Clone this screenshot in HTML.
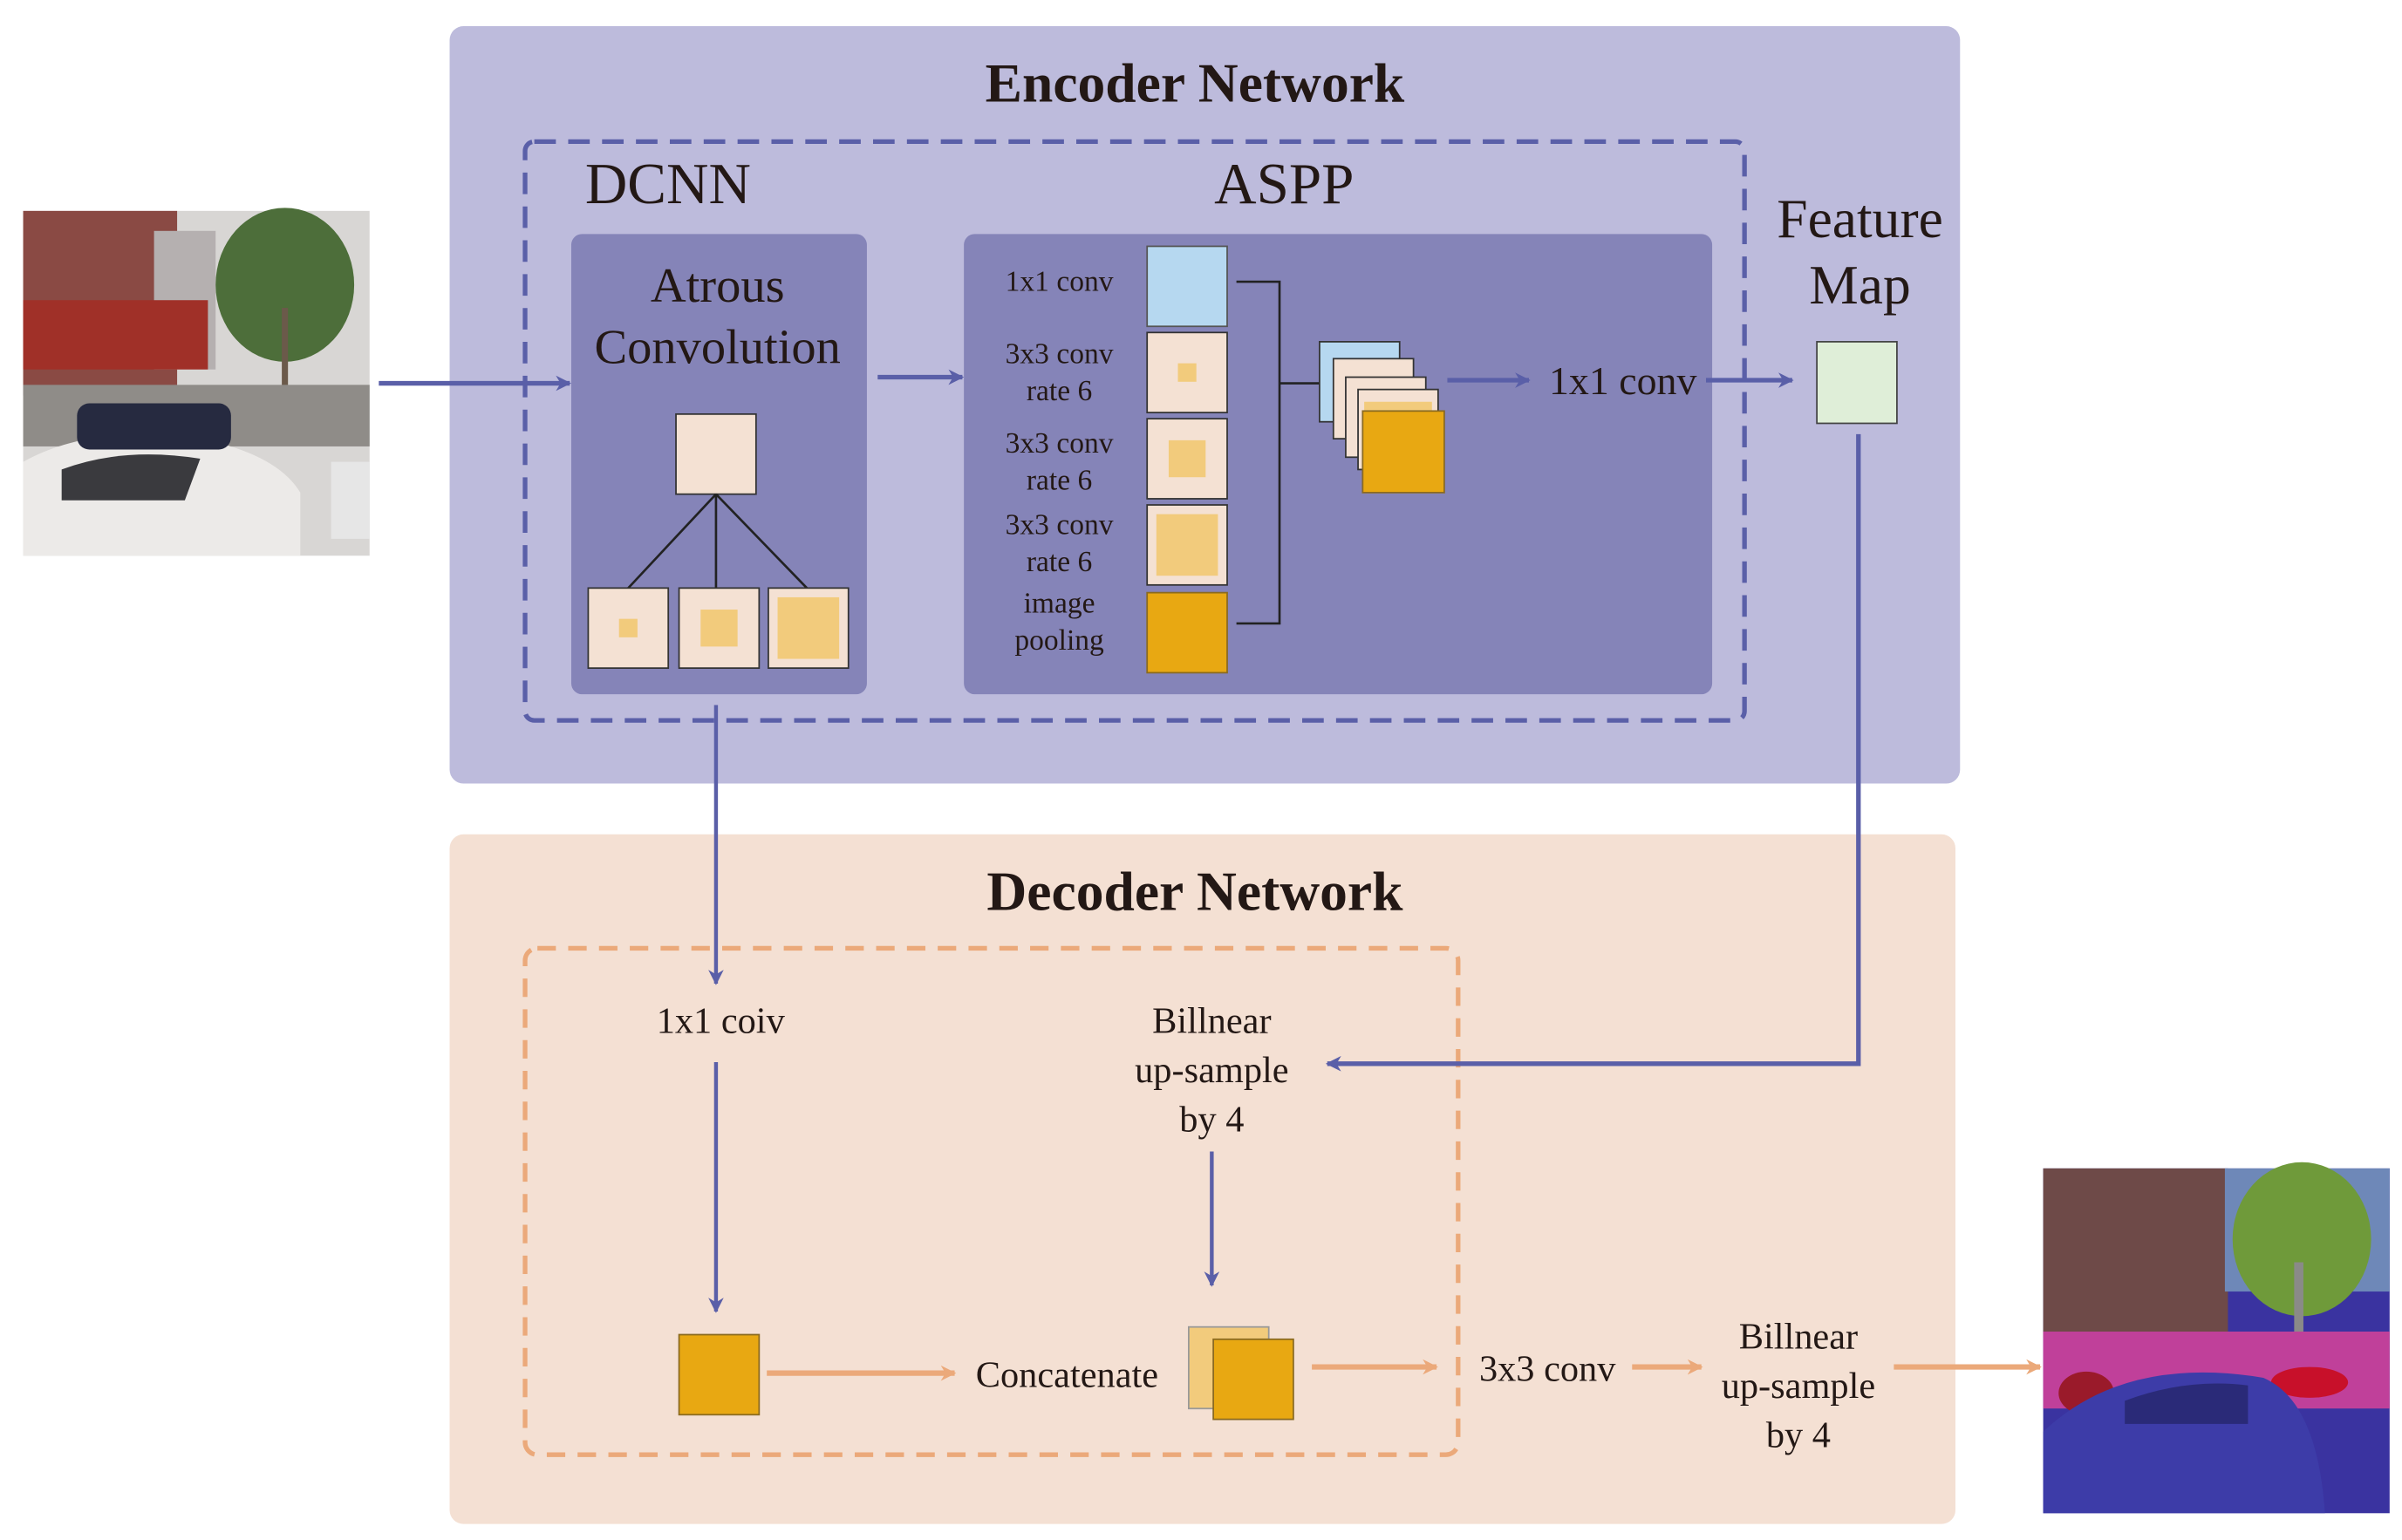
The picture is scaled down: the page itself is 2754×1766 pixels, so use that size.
<!DOCTYPE html>
<html><head><meta charset="utf-8"><style>
html,body{margin:0;padding:0;background:#fff;}
svg{display:block;}
text{font-family:"Liberation Serif",serif;fill:#231815;}
</style></head><body>
<svg width="2754" height="1766" viewBox="0 0 1560 1000.4" xmlns="http://www.w3.org/2000/svg">
<defs>
<marker id="ab" markerWidth="10" markerHeight="10" refX="9" refY="5" orient="auto" markerUnits="userSpaceOnUse"><path d="M0,0 L10,5 L0,10 L3,5 z" fill="#5a5fa8"/></marker>
<marker id="ao" markerWidth="10" markerHeight="10" refX="9" refY="5" orient="auto" markerUnits="userSpaceOnUse"><path d="M0,0 L10,5 L0,10 L3,5 z" fill="#eba97a"/></marker>
</defs>
<rect width="1560" height="1001" fill="#fff"/>
<!-- Encoder -->
<rect x="292" y="17" width="981" height="492" rx="9" fill="#bdbbdc"/>
<text x="776" y="66" font-size="36" font-weight="bold" text-anchor="middle">Encoder Network</text>
<rect x="341" y="92" width="792" height="376" rx="6" fill="none" stroke="#5a5fa8" stroke-width="3" stroke-dasharray="14,8"/>
<text x="380" y="132" font-size="38">DCNN</text>
<text x="834" y="132" font-size="38" text-anchor="middle">ASPP</text>
<rect x="371" y="152" width="192" height="299" rx="7" fill="#8584b8"/>
<rect x="626" y="152" width="486" height="299" rx="7" fill="#8584b8"/>
<text x="466" y="196" font-size="32" text-anchor="middle">Atrous</text>
<text x="466" y="236" font-size="32" text-anchor="middle">Convolution</text>
<rect x="439" y="269" width="52" height="52" fill="#f4e1d3" stroke="#333" stroke-width="1"/>
<line x1="465" y1="321" x2="408" y2="382" stroke="#222" stroke-width="1.5"/>
<line x1="465" y1="321" x2="465" y2="382" stroke="#222" stroke-width="1.5"/>
<line x1="465" y1="321" x2="524" y2="382" stroke="#222" stroke-width="1.5"/>
<rect x="382" y="382" width="52" height="52" fill="#f4e1d3" stroke="#333"/>
<rect x="402" y="402" width="12" height="12" fill="#f2cb7c"/>
<rect x="441" y="382" width="52" height="52" fill="#f4e1d3" stroke="#333"/>
<rect x="455" y="396" width="24" height="24" fill="#f2cb7c"/>
<rect x="499" y="382" width="52" height="52" fill="#f4e1d3" stroke="#333"/>
<rect x="505" y="388" width="40" height="40" fill="#f2cb7c"/>
<!-- ASPP labels -->
<g font-size="19" text-anchor="middle">
<text x="688" y="189">1x1 conv</text>
<text x="688" y="236">3x3 conv</text><text x="688" y="260">rate 6</text>
<text x="688" y="294">3x3 conv</text><text x="688" y="318">rate 6</text>
<text x="688" y="347">3x3 conv</text><text x="688" y="371">rate 6</text>
<text x="688" y="398">image</text><text x="688" y="422">pooling</text>
</g>
<rect x="745" y="160" width="52" height="52" fill="#b6d8f0" stroke="#555"/>
<rect x="745" y="216" width="52" height="52" fill="#f4e1d3" stroke="#333"/>
<rect x="765" y="236" width="12" height="12" fill="#f2cb7c"/>
<rect x="745" y="272" width="52" height="52" fill="#f4e1d3" stroke="#333"/>
<rect x="759" y="286" width="24" height="24" fill="#f2cb7c"/>
<rect x="745" y="328" width="52" height="52" fill="#f4e1d3" stroke="#333"/>
<rect x="751" y="334" width="40" height="40" fill="#f2cb7c"/>
<rect x="745" y="385" width="52" height="52" fill="#e8a812" stroke="#8a6a20"/>
<path d="M803,183 H831 V405 H803" fill="none" stroke="#222" stroke-width="1.5"/>
<line x1="831" y1="249" x2="857" y2="249" stroke="#222" stroke-width="1.5"/>
<rect x="857" y="222" width="52" height="52" fill="#b6d8f0" stroke="#333"/>
<rect x="866" y="233" width="52" height="52" fill="#f4e1d3" stroke="#333"/>
<rect x="874" y="245" width="52" height="52" fill="#f4e1d3" stroke="#333"/>
<rect x="882" y="253" width="52" height="52" fill="#f4e1d3" stroke="#333"/>
<rect x="886" y="261" width="44" height="40" fill="#f2cb7c"/>
<rect x="885" y="267" width="53" height="53" fill="#e8a812" stroke="#8a6a20"/>
<text x="1054" y="256" font-size="26" text-anchor="middle">1x1 conv</text>
<text x="1208" y="154" font-size="36" text-anchor="middle">Feature</text>
<text x="1208" y="197" font-size="36" text-anchor="middle">Map</text>
<rect x="1180" y="222" width="52" height="53" fill="#dfeed8" stroke="#444"/>
<!-- arrows encoder -->
<g stroke="#5a5fa8" stroke-width="3" fill="none">
<line x1="246" y1="249" x2="370" y2="249" marker-end="url(#ab)"/>
<line x1="570" y1="245" x2="625" y2="245" marker-end="url(#ab)"/>
<line x1="940" y1="247" x2="993" y2="247" marker-end="url(#ab)"/>
<line x1="1108" y1="247" x2="1164" y2="247" marker-end="url(#ab)"/>
</g>
<!-- Decoder -->
<rect x="292" y="542" width="978" height="448" rx="9" fill="#f4e0d3"/>
<text x="776" y="591" font-size="36" font-weight="bold" text-anchor="middle">Decoder Network</text>
<rect x="341" y="616" width="606" height="329" rx="8" fill="none" stroke="#eba97a" stroke-width="3" stroke-dasharray="12,8"/>
<g font-size="24" text-anchor="middle">
<text x="468" y="671">1x1 coiv</text>
<text x="787" y="671">Billnear</text><text x="787" y="703">up-sample</text><text x="787" y="735">by 4</text>
<text x="693" y="901">Concatenate</text>
<text x="1005" y="897">3x3 conv</text>
<text x="1168" y="876">Billnear</text><text x="1168" y="908">up-sample</text><text x="1168" y="940">by 4</text>
</g>
<rect x="441" y="867" width="52" height="52" fill="#e8a812" stroke="#8a6a20"/>
<rect x="772" y="862" width="52" height="53" fill="#f2cb7c" stroke="#999"/>
<rect x="788" y="870" width="52" height="52" fill="#e8a812" stroke="#8a6a20"/>
<g stroke="#5a5fa8" stroke-width="2.5" fill="none">
<line x1="465" y1="458" x2="465" y2="639" marker-end="url(#ab)"/>
<line x1="465" y1="690" x2="465" y2="852" marker-end="url(#ab)"/>
<line x1="787" y1="748" x2="787" y2="835" marker-end="url(#ab)"/>
<polyline points="1207,282 1207,691 862,691" stroke-width="3" marker-end="url(#ab)"/>
</g>
<g stroke="#eba97a" stroke-width="3.5" fill="none">
<line x1="498" y1="892" x2="620" y2="892" marker-end="url(#ao)"/>
<line x1="852" y1="888" x2="933" y2="888" marker-end="url(#ao)"/>
<line x1="1060" y1="888" x2="1105" y2="888" marker-end="url(#ao)"/>
<line x1="1230" y1="888" x2="1325" y2="888" marker-end="url(#ao)"/>
</g>
<!-- input photo -->
<g>
<rect x="15" y="137" width="225" height="224" fill="#d8d6d4"/>
<rect x="15" y="137" width="100" height="120" fill="#8a4a44"/>
<rect x="100" y="150" width="40" height="90" fill="#b5b0b0"/>
<rect x="15" y="195" width="120" height="45" fill="#a03028"/>
<ellipse cx="185" cy="185" rx="45" ry="50" fill="#4d6e3a"/>
<rect x="183" y="200" width="4" height="70" fill="#6b5a4a"/>
<rect x="15" y="250" width="225" height="40" fill="#8f8c88"/>
<path d="M15,300 Q60,275 130,285 Q180,295 195,320 L195,361 L15,361 z" fill="#eceae8"/>
<path d="M40,305 Q80,290 130,298 L120,325 L40,325 z" fill="#3a3a3e"/>
<rect x="50" y="262" width="100" height="30" rx="8" fill="#262a40"/>
<rect x="215" y="300" width="25" height="50" fill="#e6e6e6"/>
</g>
<!-- output seg -->
<g>
<rect x="1327" y="759" width="225" height="224" fill="#3a33a0"/>
<rect x="1327" y="759" width="120" height="110" fill="#6e4a48"/>
<rect x="1445" y="759" width="107" height="80" fill="#6e88b8"/>
<ellipse cx="1495" cy="805" rx="45" ry="50" fill="#6f9a3a"/>
<rect x="1490" y="820" width="6" height="60" fill="#8a8a88"/>
<rect x="1327" y="865" width="225" height="50" fill="#c0409a"/>
<ellipse cx="1355" cy="905" rx="18" ry="14" fill="#9a1a2a"/>
<ellipse cx="1500" cy="898" rx="25" ry="10" fill="#c8102a"/>
<path d="M1327,930 Q1380,880 1470,895 Q1505,910 1510,983 L1327,983 z" fill="#3d3ca8"/>
<path d="M1380,910 Q1420,895 1460,900 L1460,925 L1380,925 z" fill="#2a2a78"/>
</g>
</svg>
</body></html>
